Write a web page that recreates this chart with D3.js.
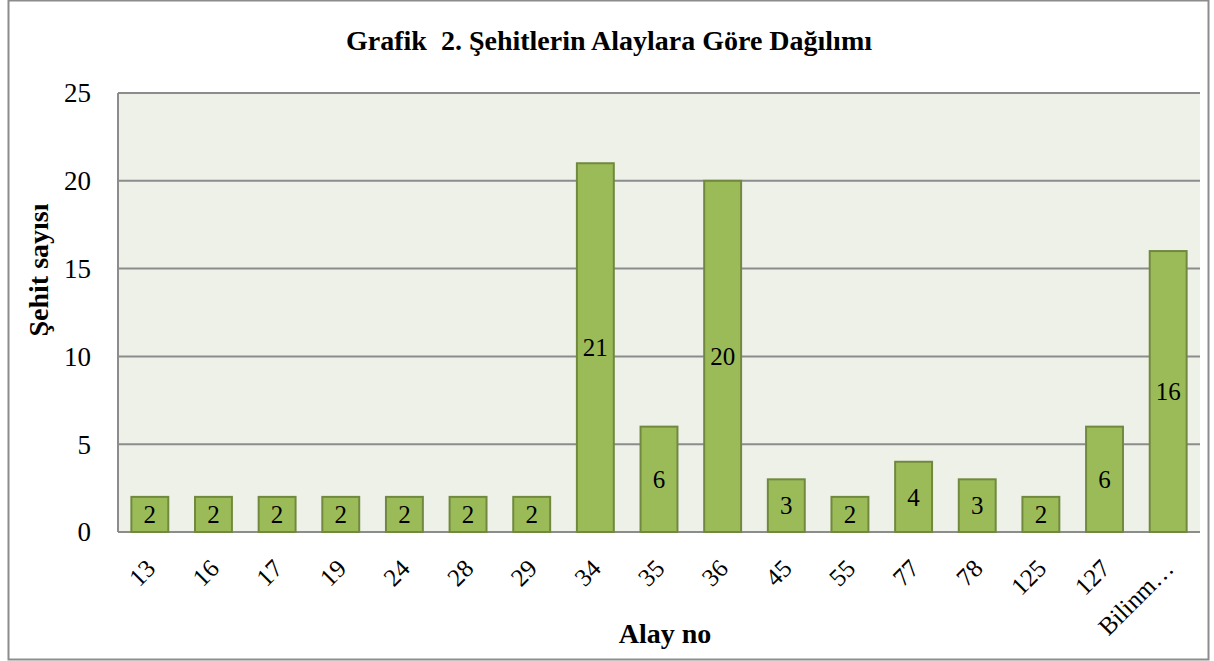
<!DOCTYPE html>
<html>
<head>
<meta charset="utf-8">
<script src="https://cdn.jsdelivr.net/npm/d3@7"></script>
<style>
  body { margin: 0; background: #fff; }
  svg text { font-family: "Palatino Linotype", "Book Antiqua", "Liberation Serif", serif; fill: #000; }
</style>
</head>
<body>
<svg id="chart" width="1214" height="661"></svg>
<script>
// regiments (alay no) and number of martyrs
var categories = ['13', '16', '17', '19', '24', '28', '29', '34', '35', '36', '45', '55', '77', '78', '125', '127', 'Bilinm\u2026'];
var values = [2, 2, 2, 2, 2, 2, 2, 21, 6, 20, 3, 2, 4, 3, 2, 6, 16];
var yTicks = [0, 5, 10, 15, 20, 25];

var svg = d3.select('#chart');

var margin = { left: 118, top: 93, right: 1200, bottom: 532 };

// outer frame
svg.append('rect')
  .attr('x', 8.5).attr('y', 0.5)
  .attr('width', 1200).attr('height', 659)
  .attr('fill', '#fff')
  .attr('stroke', '#8c8c8c')
  .attr('stroke-width', 2);

var x = d3.scaleBand()
  .domain(categories)
  .range([margin.left, margin.right])
  .paddingInner(0.42)
  .paddingOuter(0.21);

var y = d3.scaleLinear()
  .domain([0, 25])
  .range([margin.bottom, margin.top]);

// plot background
svg.append('rect')
  .attr('x', margin.left).attr('y', margin.top)
  .attr('width', margin.right - margin.left)
  .attr('height', margin.bottom - margin.top)
  .attr('fill', '#eef1e8');

// grid lines
svg.append('g')
  .selectAll('line')
  .data(yTicks)
  .enter()
  .append('line')
  .attr('x1', margin.left).attr('x2', margin.right)
  .attr('y1', function(d) { return y(d); })
  .attr('y2', function(d) { return y(d); })
  .attr('stroke', '#8c8c8c')
  .attr('stroke-width', 2);

// left axis line
svg.append('line')
  .attr('x1', margin.left).attr('x2', margin.left)
  .attr('y1', margin.top).attr('y2', margin.bottom)
  .attr('stroke', '#8c8c8c')
  .attr('stroke-width', 2);

// y tick labels
svg.append('g')
  .selectAll('text')
  .data(yTicks)
  .enter()
  .append('text')
  .attr('x', 91)
  .attr('y', function(d) { return y(d); })
  .attr('dy', '0.35em')
  .attr('text-anchor', 'end')
  .style('font-size', '27px')
  .text(function(d) { return d; });

// bars
var bars = svg.append('g')
  .selectAll('g')
  .data(values)
  .enter()
  .append('g');

bars.append('rect')
  .attr('x', function(d, i) { return x(categories[i]); })
  .attr('y', function(d) { return y(d); })
  .attr('width', x.bandwidth())
  .attr('height', function(d) { return y(0) - y(d); })
  .attr('fill', '#9bbb59')
  .attr('stroke', '#71893f')
  .attr('stroke-width', 2);

bars.append('text')
  .attr('x', function(d, i) { return x(categories[i]) + x.bandwidth() / 2; })
  .attr('y', function(d) { return (y(d) + y(0)) / 2; })
  .attr('dy', '0.35em')
  .attr('text-anchor', 'middle')
  .style('font-size', '25px')
  .text(function(d) { return d; });

// x tick labels, rotated
svg.append('g')
  .selectAll('text')
  .data(categories)
  .enter()
  .append('text')
  .attr('transform', function(d) {
    return 'translate(' + (x(d) + x.bandwidth() / 2 + 7) + ',' + 570 + ') rotate(-45)';
  })
  .attr('text-anchor', 'end')
  .style('font-size', '25px')
  .text(function(d) { return d; });

// title (keeps the double space)
svg.append('text')
  .attr('x', 609).attr('y', 50)
  .attr('text-anchor', 'middle')
  .style('font-size', '28px')
  .style('font-weight', 'bold')
  .style('white-space', 'pre')
  .text('Grafik  2. \u015eehitlerin Alaylara G\u00f6re Da\u011f\u0131l\u0131m\u0131');

// axis titles
svg.append('text')
  .attr('transform', 'translate(48,270) rotate(-90)')
  .attr('text-anchor', 'middle')
  .style('font-size', '28px')
  .style('font-weight', 'bold')
  .text('\u015eehit say\u0131s\u0131');

svg.append('text')
  .attr('x', 665).attr('y', 643)
  .attr('text-anchor', 'middle')
  .style('font-size', '28px')
  .style('font-weight', 'bold')
  .text('Alay no');
</script>
</body>
</html>
